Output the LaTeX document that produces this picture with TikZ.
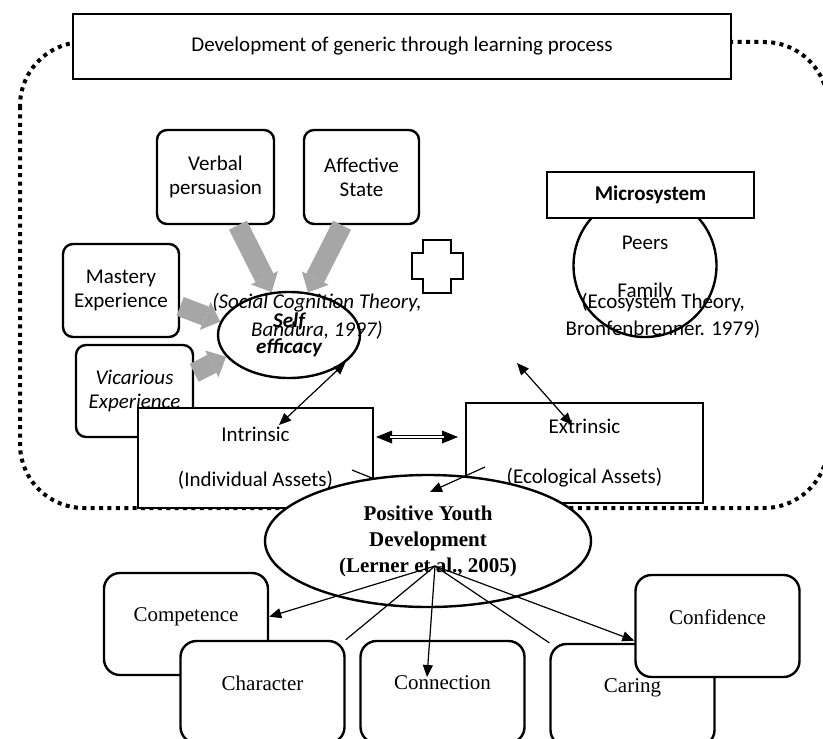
\documentclass[tikz,border=0pt]{standalone}
\usepackage{fontspec}
\setmainfont{Carlito}
\newfontfamily\timesfont{Liberation Serif}
\usetikzlibrary{arrows.meta,shapes.geometric}
\definecolor{arrowgrey}{HTML}{A6A6A6}

\begin{document}
\begin{tikzpicture}[x=0.5pt,y=-0.5pt,
        sanstext/.style={font=\fontsize{10.5}{12}\selectfont, align=center},
        plainbox/.style={draw, line width=1.2pt, fill=white, sanstext},
        softbox/.style={plainbox, rounded corners=5pt},
        youthbox/.style={draw, line width=1.2pt, fill=white, rounded corners=8pt, minimum width=82pt, minimum height=51pt, align=center, font=\timesfont\fontsize{10.5}{13}\selectfont},
        greyarrow/.style={arrowgrey, line width=10pt, -{Triangle[length=8pt,width=15pt,line width=0pt]}},
        thinline/.style={line width=0.6pt},
        thinarrow/.style={line width=0.6pt, -{Triangle[length=6pt,width=5pt]}},
        bothways/.style={line width=0.6pt, {Triangle[length=6pt,width=5pt]}-{Triangle[length=6pt,width=5pt]}}]
                \useasboundingbox (0,0) rectangle (823,738);
                \draw[line width=2pt, dash pattern=on 2pt off 2.2pt, rounded corners=32pt] (20,42) rectangle (828,508);
                \node[plainbox, minimum width=329pt, minimum height=32.5pt] (title) at (402,46.5) {Development of generic through learning process};
                \node[softbox, minimum width=58.5pt, minimum height=47pt] (verbal) at (215.5,177) {Verbal\\persuasion};
                \node[softbox, minimum width=57.5pt, minimum height=47pt] (affect) at (361.5,177) {Affective\\State};
                \node[softbox, minimum width=58pt, minimum height=46.5pt] (mastery) at (121,290.5) {Mastery\\Experience};
                \node[softbox, minimum width=58.5pt, minimum height=46pt, font=\fontsize{10.5}{12}\selectfont\itshape] (vicar) at (134.5,391) {Vicarious\\Experience};
                \node[draw, ellipse, line width=1.2pt, fill=white, minimum width=71pt, minimum height=43pt, inner sep=0pt, align=center, font=\fontsize{10.5}{13}\selectfont\bfseries\itshape] (self) at (289,335) {Self\\efficacy};
                \draw[greyarrow] (verbal.-65) -- (self.112);
                \draw[greyarrow] (affect.-112) -- (self.66);
                \draw[greyarrow] (mastery.-15) -- (self.169);
                \draw[greyarrow] (vicar.17) -- (self.199);
                \node[sanstext, font=\fontsize{10.5}{14}\selectfont\itshape] (bandura) at (317,316) {(Social Cognition Theory,\\Bandura, 1997)};
                \draw[line width=1.2pt, fill=white] (423,240) -- (451,240) -- (451,253) -- (463,253) -- (463,279) -- (451,279) -- (451,293) -- (423,293) -- (423,279) -- (412,279) -- (412,253) -- (423,253) -- cycle;
                \node[draw, circle, line width=1.2pt, minimum size=71.5pt, inner sep=0pt] (micro) at (645,265.5) {};
                \node[plainbox, font=\fontsize{10.5}{12}\selectfont\bfseries, minimum width=103.5pt, minimum height=23pt] (microsys) at (650.5,195) {Microsystem};
                \node[sanstext] (peers) at (645,243) {Peers};
                \node[sanstext] (family) at (645,292) {Family};
                \node[sanstext, font=\fontsize{10.5}{13.5}\selectfont] (bronf) at (663,315.5) {(Ecosystem Theory,\\Bronfenbrenner. 1979)};
                \node[plainbox, minimum width=117.5pt, minimum height=50pt] (intr) at (255.5,458) {Intrinsic\\[10.5pt](Individual Assets)};
                \node[plainbox, minimum width=118.5pt, minimum height=50pt] (extr) at (584.5,453) {Extrinsic\\[13pt](Ecological Assets)};
                \coordinate (dl) at (376,437);
                \coordinate (dr) at (458,437);
                \draw[line width=2.4pt, {Triangle[length=8pt,width=6.5pt,line width=0pt]}-{Triangle[length=8pt,width=6.5pt,line width=0pt]}] (dl) -- (dr);
                \draw[white, line width=0.9pt, shorten <=7pt, shorten >=7pt] (dl) -- (dr);
                \coordinate (intrtop) at (279,425);
                \draw[bothways] (self.-26) -- (intrtop);
                \coordinate (ecoend) at (517,363);
                \coordinate (extrtop) at (572,425);
                \draw[bothways] (ecoend) -- (extrtop);
                \node[draw, ellipse, line width=1.2pt, fill=white, minimum width=163pt, minimum height=66pt, inner sep=0pt, align=center, font=\timesfont\bfseries\fontsize{10.5}{13}\selectfont] (pyd) at (428,541) {Positive Youth\\Development\\(Lerner et al., 2005)};
                \coordinate (inA) at (352,470);
                \coordinate (inB) at (372,478);
                \draw[thinline] (inA) -- (inB);
                \coordinate (exA) at (485,467);
                \coordinate (pydtop) at (430,492);
                \draw[thinarrow] (exA) -- (pydtop);
                \node[youthbox] (comp) at (186,624) {Competence\\[-4pt]\vphantom{C}};
                \node[youthbox] (char) at (262.5,692) {Character\\[-4pt]\vphantom{C}};
                \node[youthbox] (conn) at (442.5,692) {Connection\\[-4pt]\vphantom{C}};
                \node[youthbox] (car) at (632.5,695) {Caring\\[-4pt]\vphantom{C}};
                \node[youthbox] (conf) at (717.5,626) {Confidence\\[-4pt]\vphantom{C}};
                \coordinate (hub) at (435,566);
                \coordinate (conntip) at (427,677);
                \draw[thinarrow] (hub) -- (comp.5);
                \draw[thinline] (hub) -- (char.north east);
                \draw[thinarrow] (hub) -- (conntip);
                \draw[thinline] (hub) -- (car.north west);
                \draw[thinarrow] (hub) -- (conf.190);
\end{tikzpicture}
\end{document}
